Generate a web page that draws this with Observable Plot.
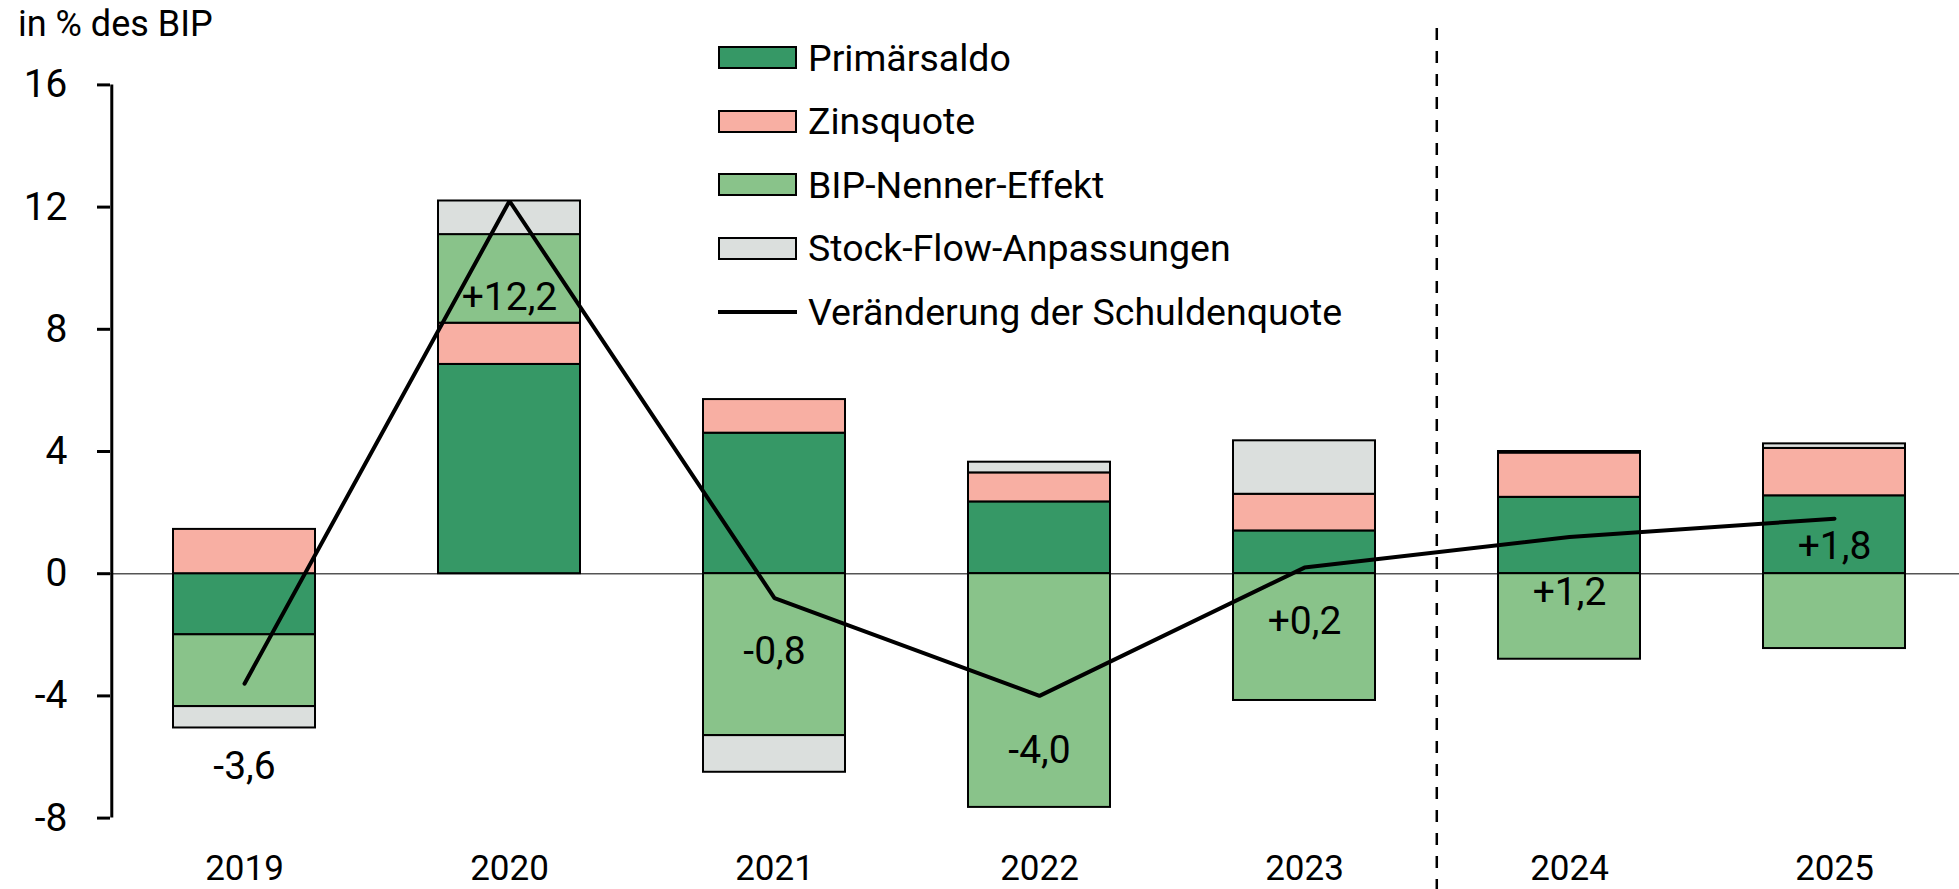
<!DOCTYPE html>
<html><head><meta charset="utf-8">
<script src="https://cdn.jsdelivr.net/npm/d3@7"></script>
<script src="https://cdn.jsdelivr.net/npm/@observablehq/plot@0.6"></script>
<style>
body{margin:0;background:#fff;}
#wrap{position:relative;width:1959px;height:889px;font-family:Roboto,sans-serif;color:#000;overflow:hidden;}
#title{position:absolute;left:18px;top:6px;font-size:36px;line-height:36px;white-space:nowrap;}
#legend{position:absolute;left:718px;top:26px;}
.row{display:flex;align-items:center;height:63.5px;font-size:37.5px;white-space:nowrap;}
.sw{width:75px;height:19px;border:2px solid #000;margin-right:11px;box-sizing:content-box;}
.ln{width:79px;height:4px;background:#000;margin-right:11px;}
</style></head><body>
<div id="wrap"><div id="chart"></div><div id="title">in % des BIP</div><div id="legend"></div></div>
<script>
const years = ["2019","2020","2021","2022","2023","2024","2025"];
const series = ["Primärsaldo","Zinsquote","BIP-Nenner-Effekt","Stock-Flow-Anpassungen"];
const colors = ["#369866","#F8AFA3","#89C38A","#DBDFDD"];
const primaersaldo = [-2.0, 6.85, 4.6, 2.35, 1.4, 2.5, 2.55];
const zinsquote   = [1.45, 1.35, 1.1, 0.95, 1.2, 1.45, 1.55];
const bipNenner   = [-2.35, 2.9, -5.3, -7.65, -4.15, -2.8, -2.45];
const stockFlow   = [-0.7, 1.1, -1.2, 0.35, 1.75, 0.05, 0.15];
const schuldenquote = [-3.6, 12.2, -0.8, -4.0, 0.2, 1.2, 1.8];
const lineLabels = ["-3,6","+12,2","-0,8","-4,0","+0,2","+1,2","+1,8"];
const labelAt = [-6.3, 9.05, -2.55, -5.8, -1.55, -0.6, 0.9];
const yTicks = [-8,-4,0,4,8,12,16];
const lineName = "Veränderung der Schuldenquote";

const seriesValues = [primaersaldo, zinsquote, bipNenner, stockFlow];
const rows = [];
series.forEach((s, si) => years.forEach((yr, i) => rows.push({year: yr, series: s, value: seriesValues[si][i]})));
const totals = years.map((yr, i) => ({year: yr, value: schuldenquote[i], label: lineLabels[i], at: labelAt[i]}));

const W = 1959, H = 889, x0 = 110, x1 = 1968;
const step = (x1 - x0) / years.length;

const chart = Plot.plot({
  width: W, height: H,
  marginLeft: 110, marginRight: 0, marginTop: 84.4, marginBottom: 71.4,
  style: {fontFamily: "Roboto, sans-serif", color: "#000", background: "transparent", overflow: "visible"},
  x: {domain: years, range: [x0, x1], paddingInner: 0.463, paddingOuter: 0.2315},
  y: {domain: [-8, 16]},
  color: {domain: series, range: colors},
  marks: [
    Plot.ruleY([0], {stroke: "#555", strokeWidth: 1.5}),
    Plot.barY(rows, {x: "year", y: "value", fill: "series", stroke: "#000", strokeWidth: 2}),
    Plot.ruleX(["2024"], {dx: -step / 2, y1: 17.85, y2: -10.5, stroke: "#000", strokeWidth: 2.5, strokeDasharray: "12,11"}),
    Plot.ruleX(["2019"], {dx: -step / 2, y1: -8, y2: 16, stroke: "#000", strokeWidth: 3}),
    Plot.lineY(totals, {x: "year", y: "value", stroke: "#000", strokeWidth: 4, strokeLinejoin: "miter", strokeLinecap: "round"}),
    Plot.text(totals, {x: "year", y: "at", text: "label", fontSize: 39, fill: "#000"}),
    Plot.axisY({ticks: yTicks, tickFormat: d => String(d), tickSize: 13, tickPadding: 30, fontSize: 39, strokeWidth: 3, label: null}),
    Plot.axisX({tickSize: 0, tickPadding: 37, fontSize: 35, label: null})
  ]
});
document.getElementById("chart").appendChild(chart);

const legend = document.getElementById("legend");
series.forEach((s, i) => {
  const r = document.createElement("div"); r.className = "row";
  const sw = document.createElement("div"); sw.className = "sw"; sw.style.background = colors[i];
  const t = document.createElement("span"); t.textContent = s;
  r.appendChild(sw); r.appendChild(t); legend.appendChild(r);
});
{
  const r = document.createElement("div"); r.className = "row";
  const sw = document.createElement("div"); sw.className = "ln";
  const t = document.createElement("span"); t.textContent = lineName;
  r.appendChild(sw); r.appendChild(t); legend.appendChild(r);
}
</script>
</body></html>
